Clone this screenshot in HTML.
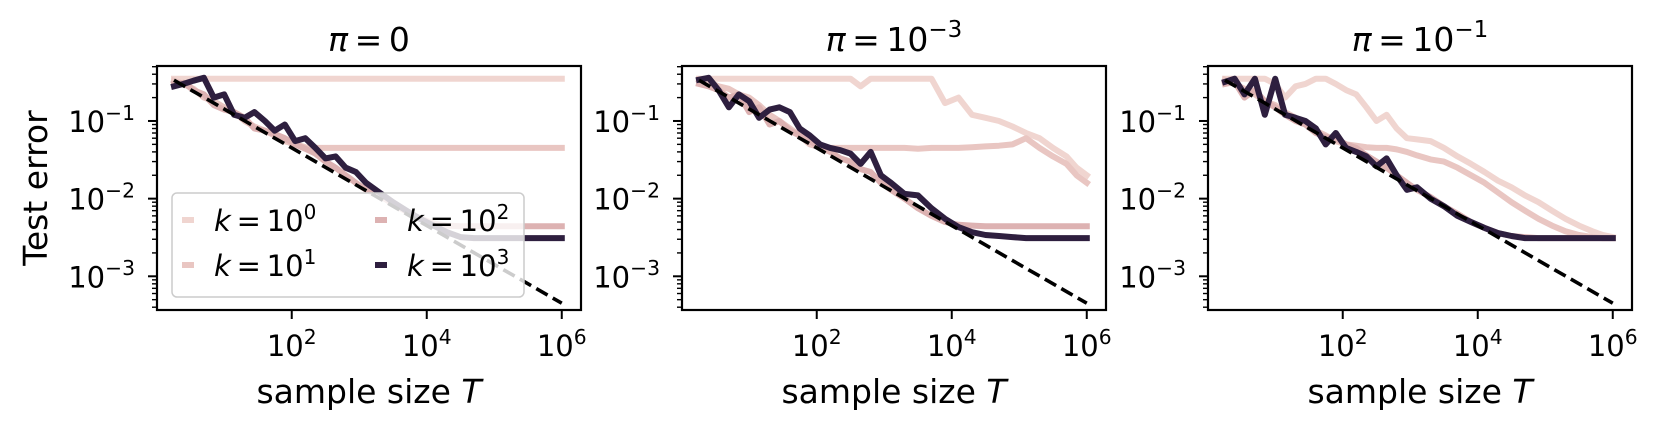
<!DOCTYPE html>
<html><head><meta charset="utf-8"><style>
html,body{margin:0;padding:0;background:#fff;}
svg{display:block;font-family:"DejaVu Sans","Liberation Sans",sans-serif;}
</style></head><body>
<svg id="fig" width="1659" height="435" viewBox="0 0 1659 435" xmlns="http://www.w3.org/2000/svg"></svg>
<script>
// ---- data ----
const sampleSizes = [1.8,2.5,3.5,5,7,10,14,20,28,40,56,79,112,158,224,316,447,631,891,1259,1995,3162,5012,7943,12589,19953,31623,50119,79433,125893,199526,316228,501187,707946,1000000];
const panelTitles = ["0","10^−3","10^−1"];
const seriesKeys = ["k0","k1","k2","k3"];
const legendLabels = ["0","1","2","3"];
const xTickExps = [2,4,6];
const yTickExps = [-1,-2,-3];
const refCoef = 0.45;
const refStartT = 1.8;
const refEndT = 1000000;

// Panel 1 (pi = 0)
const p1k0 = [0.35,0.35,0.35,0.35,0.35,0.35,0.35,0.35,0.35,0.35,0.35,0.35,0.35,0.35,0.35,0.35,0.35,0.35,0.35,0.35,0.35,0.35,0.35,0.35,0.35,0.35,0.35,0.35,0.35,0.35,0.35,0.35,0.35,0.35,0.35];
const p1k1 = [0.33,0.3,0.26,0.2,0.18,0.15,0.13,0.1,0.085,0.075,0.065,0.055,0.05,0.046,0.045,0.045,0.045,0.045,0.045,0.045,0.045,0.045,0.045,0.045,0.045,0.045,0.045,0.045,0.045,0.045,0.045,0.045,0.045,0.045,0.045];
const p1k2 = [0.3,0.31,0.25,0.22,0.16,0.14,0.13,0.11,0.08,0.075,0.068,0.06,0.05,0.044,0.038,0.03,0.025,0.02,0.016,0.013,0.011,0.0085,0.0068,0.0056,0.0048,0.0045,0.0044,0.0044,0.0044,0.0044,0.0044,0.0044,0.0044,0.0044,0.0044];
const p1k3 = [0.28,0.3,0.33,0.36,0.2,0.22,0.12,0.11,0.13,0.1,0.075,0.09,0.055,0.06,0.045,0.033,0.035,0.025,0.022,0.016,0.012,0.009,0.007,0.0055,0.0045,0.0037,0.0032,0.0031,0.0031,0.0031,0.0031,0.0031,0.0031,0.0031,0.0031];
// Panel 2 (pi = 1e-3)
const p2k0 = [0.35,0.35,0.35,0.35,0.35,0.35,0.35,0.35,0.35,0.35,0.35,0.35,0.35,0.35,0.35,0.35,0.28,0.35,0.35,0.35,0.35,0.35,0.35,0.17,0.2,0.12,0.11,0.1,0.085,0.07,0.06,0.045,0.035,0.025,0.02];
const p2k1 = [0.34,0.32,0.28,0.26,0.22,0.2,0.16,0.12,0.1,0.08,0.065,0.05,0.046,0.045,0.045,0.045,0.045,0.045,0.045,0.045,0.045,0.044,0.045,0.045,0.045,0.046,0.047,0.048,0.05,0.06,0.045,0.035,0.028,0.02,0.016];
const p2k2 = [0.3,0.28,0.25,0.2,0.22,0.13,0.15,0.09,0.1,0.075,0.065,0.055,0.046,0.04,0.033,0.03,0.024,0.022,0.016,0.013,0.01,0.0075,0.006,0.005,0.0046,0.0045,0.0044,0.0044,0.0044,0.0044,0.0044,0.0044,0.0044,0.0044,0.0044];
const p2k3 = [0.34,0.36,0.25,0.15,0.22,0.18,0.11,0.14,0.15,0.13,0.08,0.065,0.05,0.045,0.042,0.038,0.028,0.04,0.02,0.016,0.0115,0.011,0.0075,0.0055,0.0043,0.0037,0.0034,0.0033,0.0032,0.0031,0.0031,0.0031,0.0031,0.0031,0.0031];
// Panel 3 (pi = 1e-1)
const p3k0 = [0.35,0.35,0.35,0.35,0.35,0.3,0.2,0.28,0.3,0.35,0.35,0.3,0.25,0.22,0.15,0.1,0.12,0.08,0.06,0.058,0.055,0.045,0.035,0.028,0.022,0.017,0.014,0.011,0.009,0.007,0.0055,0.0045,0.0038,0.0034,0.0032];
const p3k1 = [0.34,0.3,0.26,0.22,0.18,0.16,0.13,0.11,0.09,0.075,0.065,0.055,0.05,0.048,0.046,0.045,0.045,0.043,0.04,0.036,0.032,0.03,0.025,0.02,0.016,0.012,0.009,0.007,0.0055,0.0045,0.0038,0.0034,0.0032,0.0031,0.0031];
const p3k2 = [0.3,0.32,0.2,0.25,0.18,0.15,0.12,0.1,0.09,0.07,0.062,0.06,0.05,0.045,0.036,0.03,0.025,0.02,0.016,0.013,0.0105,0.008,0.0064,0.005,0.0042,0.0036,0.0033,0.0032,0.0031,0.0031,0.0031,0.0031,0.0031,0.0031,0.0031];
const p3k3 = [0.32,0.35,0.22,0.35,0.12,0.35,0.12,0.11,0.1,0.08,0.05,0.07,0.045,0.04,0.035,0.026,0.033,0.02,0.013,0.014,0.01,0.008,0.006,0.005,0.0042,0.0036,0.0033,0.0031,0.0031,0.0031,0.0031,0.0031,0.0031,0.0031,0.0031];

const panelSeries = [[p1k0,p1k1,p1k2,p1k3],[p2k0,p2k1,p2k2,p2k3],[p3k0,p3k1,p3k2,p3k3]];
const colors = ["#f0d5d0","#e9c6c2","#ddb2b2","#2e1f3f"];

// ---- layout ----
const NS="http://www.w3.org/2000/svg";
const svg=document.getElementById('fig');
const panelLeft=[157,682,1208];
const W=424, TOP=66, BOT=310;
const xMin=0.004, xMax=6.285, yMin=-3.434, yMax=-0.292;
function mk(tag,attrs,parent){const e=document.createElementNS(NS,tag);for(const k in attrs)e.setAttribute(k,attrs[k]);(parent||svg).appendChild(e);return e;}
function powText(parent,base,exp,x,y,size,anchor,name){
  const t=mk('text',{x:x,y:y,'font-size':size,'text-anchor':anchor,fill:'#000'},parent);
  
  
  const a=document.createElementNS(NS,'tspan');a.textContent=base;t.appendChild(a);
  const b=document.createElementNS(NS,'tspan');b.setAttribute('dy',-size*0.42);b.setAttribute('font-size',size*0.7);b.textContent=exp;t.appendChild(b);
  return t;
}

panelLeft.forEach((L,pi)=>{
  const g=mk('g',{});
  
  
  const xs=v=>L+(Math.log10(v)-xMin)/(xMax-xMin)*W;
  const ys=v=>BOT-(Math.log10(v)-yMin)/(yMax-yMin)*(BOT-TOP);
  const cid='clip'+pi;
  const cp=mk('clipPath',{id:cid},g);mk('rect',{x:L,y:TOP,width:W,height:BOT-TOP},cp);
  const plot=mk('g',{'clip-path':'url(#'+cid+')'},g);
  panelSeries[pi].forEach((s,si)=>{
    const d=s.map((v,i)=>(i?'L':'M')+xs(sampleSizes[i]).toFixed(1)+','+ys(v).toFixed(1)).join(' ');
    const p=mk('path',{d:d,fill:'none',stroke:colors[si],'stroke-width':6,'stroke-linejoin':'round','stroke-linecap':'square'},plot);
    
    
  });
  const r=mk('line',{x1:xs(refStartT),y1:ys(refCoef/Math.sqrt(refStartT)),x2:xs(refEndT),y2:ys(refCoef/Math.sqrt(refEndT)),stroke:'#000','stroke-width':3.6,'stroke-dasharray':'13,6'},plot);
  
  
  const f=mk('rect',{x:L,y:TOP,width:W,height:BOT-TOP,fill:'none',stroke:'#000','stroke-width':2.2},g);
  
  
  xTickExps.forEach(e=>{
    const x=xs(Math.pow(10,e));
    mk('line',{x1:x,y1:BOT,x2:x,y2:BOT+9,stroke:'#000','stroke-width':2},g);
    powText(g,'10',String(e),x,356,29,'middle','x-tick-label');
  });
  for(let e=-4;e<=0;e++){for(let m=1;m<10;m++){
    const v=m*Math.pow(10,e);const y=ys(v);if(y<TOP-0.5||y>BOT+0.5)continue;
    mk('line',{x1:L-(m===1?9:5),y1:y,x2:L,y2:y,stroke:'#000','stroke-width':m===1?2:1.4},g);
  }}
  yTickExps.forEach(e=>{
    const y=ys(Math.pow(10,e));
    powText(g,'10','−'+Math.abs(e),L-22,y+11,29,'end','y-tick-label');
  });
  const tt=mk('text',{x:L+W/2,y:51,'font-size':33,'text-anchor':'middle'},g);
  
  
  const parts=panelTitles[pi].split('^');
  const a=document.createElementNS(NS,'tspan');a.setAttribute('font-style','italic');a.textContent='π';tt.appendChild(a);
  const b=document.createElementNS(NS,'tspan');b.textContent='\u2009=\u2009'+parts[0];tt.appendChild(b);
  if(parts[1]){const c=document.createElementNS(NS,'tspan');c.setAttribute('dy',-14);c.setAttribute('font-size',23);c.textContent=parts[1];tt.appendChild(c);}
  const xl=mk('text',{x:L+W/2,y:403,'font-size':33,'text-anchor':'middle'},g);
  
  
  xl.appendChild(document.createTextNode('sample size '));
  const ti=document.createElementNS(NS,'tspan');ti.setAttribute('font-style','italic');ti.textContent='T';xl.appendChild(ti);
});

const yl=mk('text',{x:0,y:0,'font-size':33,'text-anchor':'middle',transform:'translate(47,188) rotate(-90)'});


yl.textContent='Test error';

const lg=mk('g',{});


mk('rect',{x:172,y:193,width:352,height:104,rx:5,fill:'#fff','fill-opacity':0.8,stroke:'#ccc','stroke-width':1.5},lg);
const legPos=[[182,220],[182,265],[375,220],[375,265]];
legendLabels.forEach((lab,i)=>{
  const [x,y]=legPos[i];
  const h=mk('line',{x1:x,y1:y,x2:x+12,y2:y,stroke:colors[i],'stroke-width':6},lg);
  
  
  const t=mk('text',{x:x+32,y:y+11,'font-size':29},lg);
  
  
  const a=document.createElementNS(NS,'tspan');a.setAttribute('font-style','italic');a.textContent='k';t.appendChild(a);
  const b=document.createElementNS(NS,'tspan');b.textContent='\u2009=\u200910';t.appendChild(b);
  const c=document.createElementNS(NS,'tspan');c.setAttribute('dy',-12);c.setAttribute('font-size',20);c.textContent=lab;t.appendChild(c);
});
</script>
</body></html>
